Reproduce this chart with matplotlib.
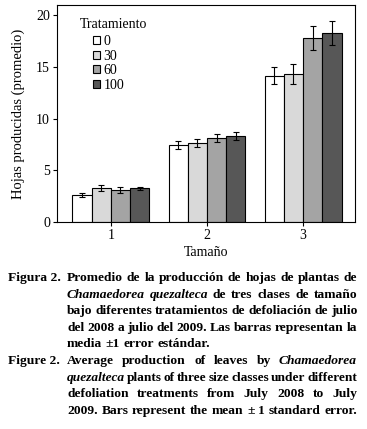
import numpy as np
import matplotlib
matplotlib.use('Agg')
import matplotlib.pyplot as plt

plt.rcParams['font.family'] = ['Liberation Serif', 'DejaVu Serif']

# data
sizes = [1, 2, 3]
size_labels = ['1', '2', '3']
treatments = ['0', '30', '60', '100']
mean_0 = [2.6, 7.45, 14.15]
mean_30 = [3.27, 7.65, 14.35]
mean_60 = [3.08, 8.12, 17.77]
mean_100 = [3.27, 8.35, 18.32]
se_0 = [0.18, 0.39, 0.82]
se_30 = [0.27, 0.39, 0.97]
se_60 = [0.26, 0.39, 1.16]
se_100 = [0.15, 0.37, 1.17]
colors = ['white', '#d9d9d9', '#a4a4a4', '#575757']

means = [mean_0, mean_30, mean_60, mean_100]
ses = [se_0, se_30, se_60, se_100]

W, H = 367, 429
fig = plt.figure(figsize=(W / 100, H / 100), dpi=100)
ax = fig.add_axes([57 / W, 1 - 222 / H, (355 - 57) / W, (222 - 5) / H])

bw = 0.2
x = np.array(sizes, dtype=float)
for i, tr in enumerate(treatments):
    xi = x + (i - 1.5) * bw
    ax.bar(xi, means[i], bw, color=colors[i], edgecolor='black', linewidth=0.8,
           label=tr, zorder=2)
    ax.errorbar(xi, means[i], yerr=ses[i], fmt='none', ecolor='black',
                elinewidth=0.8, capsize=2, capthick=0.8, zorder=3)

ax.set_xlim(0.44, 3.54)
ax.set_ylim(0, 21)
ax.set_xticks(sizes)
ax.set_xticklabels(size_labels)
ax.set_yticks([0, 5, 10, 15, 20])
ax.tick_params(direction='out', length=3, width=0.8, labelsize=10, pad=2)
for s in ax.spines.values():
    s.set_linewidth(0.8)
ax.set_xlabel('Tamaño', fontsize=10, labelpad=3)
ax.set_ylabel('Hojas producidas (promedio)', fontsize=10.5, labelpad=8)

# legend title drawn on its own so the gap to the entries can be set
ax.text((80 - 57) / 298, 1 - (24 - 5) / 217, 'Tratamiento', transform=ax.transAxes,
        fontsize=10, ha='left', va='center')
leg = ax.legend(loc='upper left', bbox_to_anchor=((93 - 57) / 298, 1 - (35 - 5) / 217),
                frameon=False, fontsize=10,
                handlelength=0.5, handleheight=0.5, handletextpad=0.25,
                labelspacing=0.12, borderpad=0, borderaxespad=0)

# caption, justified by hand
renderer = fig.canvas.get_renderer()


def measure(word, italic, weight, fs):
    t = fig.text(0, 0, word, fontsize=fs, style='italic' if italic else 'normal',
                 weight=weight)
    w = t.get_window_extent(renderer).width
    t.remove()
    return w


def draw_line(tokens, x0, x1, y, weight, fs, justify=True):
    widths = [measure(w, it, weight, fs) for w, it in tokens]
    space = measure('a a', False, weight, fs) - measure('aa', False, weight, fs)
    if justify and len(tokens) > 1:
        gap = (x1 - x0 - sum(widths)) / (len(tokens) - 1)
        if gap < 1.8:
            # too long for the column: shrink this line a little
            return draw_line(tokens, x0, x1, y, weight, fs - 0.1, justify)
    else:
        gap = space
    xp = x0
    for (w, it), wd in zip(tokens, widths):
        fig.text(xp / W, 1 - y / H, w, fontsize=fs, weight=weight,
                 style='italic' if it else 'normal', ha='left', va='baseline')
        xp += wd + gap


def tok(s, italic=False):
    return [(w, italic) for w in s.split()]


es_lines = [
    tok('Promedio de la producción de hojas de plantas de'),
    tok('Chamaedorea quezalteca', True) + tok('de tres clases de tamaño'),
    tok('bajo diferentes tratamientos de defoliación de julio'),
    tok('del 2008 a julio del 2009. Las barras representan la'),
    tok('media ±1 error estándar.'),
]
en_lines = [
    tok('Average production of leaves by') + tok('Chamaedorea', True),
    tok('quezalteca', True) + tok('plants of three size classes under different'),
    tok('defoliation treatments from July 2008 to July'),
    tok('2009. Bars represent the mean ± 1 standard error.'),
]

fs = 9.7
x_lab, x0, x1 = 8, 67, 357
y = 281
step = 16.6
fig.text(x_lab / W, 1 - y / H, 'Figura 2.', fontsize=fs, weight='bold', va='baseline')
for k, ln in enumerate(es_lines):
    draw_line(ln, x0, x1, y, 'bold', fs, justify=(k < len(es_lines) - 1))
    y += step
fig.text(x_lab / W, 1 - y / H, 'Figure 2.', fontsize=fs, weight='bold', va='baseline')
for k, ln in enumerate(en_lines):
    draw_line(ln, x0, x1, y, 'bold', fs, justify=True)
    y += step

fig.savefig('out.png', dpi=100)
